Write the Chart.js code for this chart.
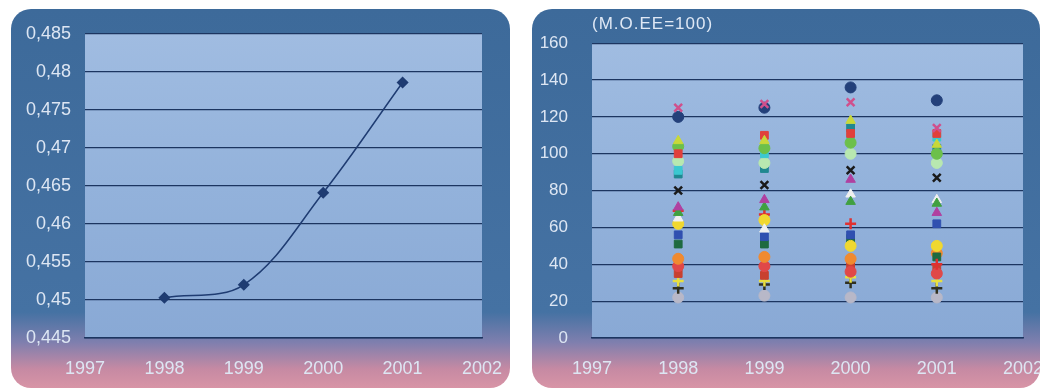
<!DOCTYPE html>
<html>
<head>
<meta charset="utf-8">
<script src="https://cdn.jsdelivr.net/npm/chart.js@4/dist/chart.umd.min.js"></script>
<style>
  html, body { margin: 0; padding: 0; background: #fff; width: 1043px; height: 390px; overflow: hidden; }
  .panel {
    position: absolute; top: 9px; height: 379px; border-radius: 20px; overflow: hidden;
    background: linear-gradient(to bottom, #3d6a9a 0%, #4572a3 80%, #7f7fae 88%, #c68aa3 95%, #d894a6 100%);
  }
  #left { left: 11px; width: 499px; }
  #right { left: 532px; width: 508px; }
  .panel canvas { position: absolute; left: 0; top: 0; }
  #unit {
    position: absolute; left: 60px; top: 5px; color: #dfe8f5;
    font: 17px "Liberation Sans", Arial, sans-serif; letter-spacing: 1px;
  }
</style>
</head>
<body>
<div class="panel" id="left"><canvas id="lineChart" width="499" height="379"></canvas></div>
<div class="panel" id="right"><canvas id="dotChart" width="520" height="379"></canvas><div id="unit">(Μ.Ο.ΕΕ=100)</div></div>
<script>
// years on the x axis
const years = [1998, 1999, 2000, 2001];

// left chart: one series
const ratioValues = [0.4503, 0.4520, 0.4641, 0.4786];

// right chart: index values per series (EU average = 100)
const s01 = [125, 127, 128, 114];
const s02 = [120, 125, 136, 129];
const s03 = [107, 107, 118, 105];
const s04 = [100, 110, 111, 111];
const s05 = [104, 103, 106, 100];
const s06 = [91, 100, 109, 109];
const s07 = [96, 95, 100, 95];
const s08 = [89, 92, 114, 103];
const s09 = [80, 83, 91, 87];
const s10 = [71, 75, 86, 68];
const s11 = [68, 71, 74, 73];
const s12 = [65, 59, 78, 75];
const s13 = [62, 64, 50, 50];
const s14 = [69, 67, 62, 40];
const s15 = [56, 55, 56, 62];
const s16 = [51, 51, 54, 44];
const s17 = [43, 44, 43, 46];
const s18 = [39, 39, 36, 35];
const s19 = [35, 34, 40, 38];
const s20 = [31, 31, 33, 31];
const s21 = [27, 29, 30, 27];
const s22 = [22, 23, 22, 22];

const seriesValues = [s01, s02, s03, s04, s05, s06, s07, s08, s09, s10, s11,
                      s12, s13, s14, s15, s16, s17, s18, s19, s20, s21, s22];

// marker look per series
const seriesStyles = [
  ['crossRot', '#d0508c'], ['circle', '#23407a'], ['triangle', '#c8d83a'], ['rect', '#e0403c'],
  ['circle', '#6cc04a'], ['rect', '#3cc8d0'], ['circle', '#b8e8b0'], ['rect', '#208890'],
  ['crossRot', '#1a1a1a'], ['triangle', '#b040a0'], ['triangle', '#40a040'], ['triangle', '#f0f0f0'],
  ['circle', '#f0d830'], ['cross', '#e03030'], ['rect', '#3050b0'], ['rect', '#1e6a40'],
  ['circle', '#f08a30'], ['circle', '#e04848'], ['rect', '#c84030'], ['cross', '#e8e040'],
  ['cross', '#303020'], ['circle', '#b8b8c8']
];

const font = { family: '"Liberation Sans", Arial, sans-serif', size: 18 };
const tickColor = '#dde6f3';
const gridColor = '#1c3560';

// fills the plot area with the light blue face
const plotFace = {
  id: 'plotFace',
  beforeDraw(chart) {
    const { ctx, chartArea: a } = chart;
    const g = ctx.createLinearGradient(0, a.top, 0, a.bottom);
    g.addColorStop(0, '#a0bce1');
    g.addColorStop(0.5, '#93b2db');
    g.addColorStop(1, '#89a9d5');
    ctx.save();
    ctx.fillStyle = g;
    ctx.fillRect(a.left, a.top, a.right - a.left, a.bottom - a.top);
    ctx.restore();
  }
};

function xAxis() {
  return {
    type: 'linear', min: 1997, max: 2002,
    ticks: { stepSize: 1, color: tickColor, font: font, padding: 20, callback: v => String(v) },
    grid: { display: false, drawTicks: false },
    border: { display: true, color: gridColor, width: 1.5 },
    afterFit(axis) {
      axis.height = 50;
      axis.paddingLeft = 0;
      axis.paddingRight = 0;
    }
  };
}

new Chart(document.getElementById('lineChart'), {
  type: 'scatter',
  data: {
    datasets: [{
      data: years.map((y, i) => ({ x: y, y: ratioValues[i] })),
      showLine: true,
      tension: 0.35,
      borderColor: '#1f3c72',
      borderWidth: 1.5,
      backgroundColor: '#1f3c72',
      pointStyle: 'rectRot',
      pointRadius: 5
    }]
  },
  options: {
    responsive: false,
    animation: false,
    layout: { padding: { top: 21, right: 28, left: 0, bottom: 0 } },
    plugins: { legend: { display: false }, tooltip: { enabled: false } },
    scales: {
      x: xAxis(),
      y: {
        min: 0.445, max: 0.485,
        ticks: {
          stepSize: 0.005, color: tickColor, font: font, padding: 14,
          callback: v => String(Math.round(v * 1000) / 1000).replace('.', ',')
        },
        grid: { color: gridColor, lineWidth: 1.3, drawTicks: false },
        border: { display: false },
        afterFit(axis) { axis.width = 74; }
      }
    }
  },
  plugins: [plotFace]
});

new Chart(document.getElementById('dotChart'), {
  type: 'scatter',
  data: {
    datasets: seriesValues.map((vals, i) => ({
      label: 'S' + (i + 1),
      data: years.map((y, j) => ({ x: y, y: vals[j] })),
      pointStyle: seriesStyles[i][0],
      backgroundColor: seriesStyles[i][1],
      borderColor: seriesStyles[i][1],
      borderWidth: seriesStyles[i][0].startsWith('cross') ? 2.5 : 1,
      pointRadius: 5.5
    }))
  },
  options: {
    responsive: false,
    animation: false,
    layout: { padding: { top: 29, right: 29, left: 0, bottom: 0 } },
    plugins: { legend: { display: false }, tooltip: { enabled: false } },
    scales: {
      x: xAxis(),
      y: {
        min: 0, max: 160,
        ticks: { stepSize: 20, color: tickColor, font: { family: font.family, size: 17 }, padding: 24 },
        grid: { color: gridColor, lineWidth: 1.3, drawTicks: false },
        border: { display: false },
        afterFit(axis) { axis.width = 60; }
      }
    }
  },
  plugins: [plotFace]
});
</script>
</body>
</html>
